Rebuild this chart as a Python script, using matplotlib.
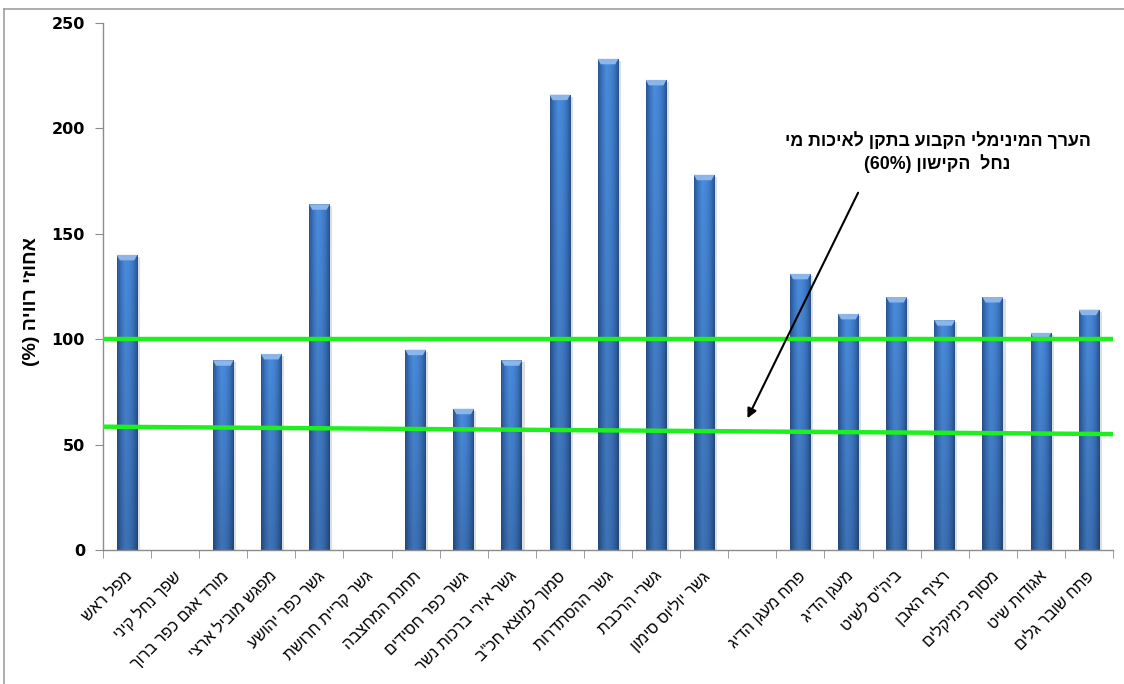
import re
import numpy as np
import matplotlib as mpl
mpl.use('Agg')
import matplotlib.pyplot as plt
from matplotlib.lines import Line2D
from matplotlib.patches import Polygon, Rectangle
from matplotlib.colors import LinearSegmentedColormap
import matplotlib.transforms as mtransforms

# saturation per station (%), nan = no sample
stations = ['מפל ראש', 'שפך נחל קיני', 'מורד אגם כפר ברוך', 'מפגש מוביל ארצי',
            'גשר כפר יהושע', 'גשר קריית חרושת', 'תחנת המחצבה', 'גשר כפר חסידים',
            'גשר אירי ברכות נשר', 'סמוך למוצא חכ"ב', 'גשר ההסתדרות', 'גשרי הרכבת',
            'גשר יוליוס סימון', '', 'פתח מעגן הדיג', 'מעגן הדיג', 'ביה"ס לשיט',
            'רציף האבן', 'מסוף כימיקלים', 'אגודות שיט', 'פתח שובר גלים']
saturation = [140, np.nan, 90, 93, 164, np.nan, 95, 67, 90, 216, 233, 223,
              178, np.nan, 131, 112, 120, 109, 120, 103, 114]

upper_ref = [100, 100]
lower_ref = [58.5, 55.0]

note_text = 'הערך המינימלי הקבוע בתקן לאיכות מי\nנחל  הקישון (60%)'
note_xy = (16.85, 188.5)
arrow_tail = (15.2, 169.5)
arrow_head = (12.9, 62.5)
ylabel_text = 'אחוזי רוויה (%)'


def rtl(s):
    # matplotlib has no bidi support: reverse to visual order, mirror
    # brackets, and keep number runs left-to-right
    out = []
    for line in s.split('\n'):
        r = line[::-1].translate(str.maketrans('()', ')('))
        r = re.sub(r'[0-9A-Za-z%.]+', lambda m: m.group(0)[::-1], r)
        out.append(r)
    return '\n'.join(out)


plt.rcParams['font.family'] = ['Liberation Sans', 'DejaVu Sans']

W, H = 1124, 684
fig = plt.figure(figsize=(W / 100, H / 100), dpi=100)
ax = fig.add_axes([103 / W, 1 - 550 / H, (1113 - 103) / W, (550 - 23) / H])

n = len(stations)
x = np.arange(n)
bw = 0.43

# bar shading: dark edges, lighter left-of-centre, darker towards the base
cmap = LinearSegmentedColormap.from_list(
    'bar', ['#2a5592', '#3a76c4', '#4b8cdb', '#4686d6', '#3b74c0', '#28528e'])
gx = np.linspace(0, 1, 64)
gy = np.linspace(0.82, 1.0, 64)[:, None]
base = cmap(gx)[None, :, :3]
shade = np.clip(base * gy[:, :, None], 0, 1)

for xi, v in zip(x, saturation):
    if np.isnan(v):
        continue
    x0, x1 = xi - bw / 2, xi + bw / 2
    # soft shadow on the right
    ax.add_patch(Rectangle((x1, 0), 0.05, v - 1, color='#c8c8c8',
                           alpha=0.6, lw=0, zorder=1))
    im = ax.imshow(shade, extent=[x0, x1, 0, v], origin='lower',
                   aspect='auto', zorder=2, interpolation='bilinear')
    rect = Rectangle((x0, 0), bw, v, transform=ax.transData)
    im.set_clip_path(rect)
    dx, dy = 0.065, 2.6
    ax.add_patch(Polygon([(x0, v), (x1, v), (x1 - dx, v - dy), (x0 + dx, v - dy)],
                         closed=True, color='#8ab6ea', lw=0, zorder=3))

# reference lines
ax.plot([-0.5, n - 0.5], upper_ref, color='#1ef01e', lw=3.2, zorder=4,
        solid_capstyle='butt')
ax.plot([-0.5, n - 0.5], lower_ref, color='#1ef01e', lw=3.2, zorder=4,
        solid_capstyle='butt')

ax.annotate('', xy=arrow_head, xytext=arrow_tail,
            arrowprops=dict(arrowstyle='-|>', color='black', lw=1.5,
                            mutation_scale=14, shrinkA=0, shrinkB=0),
            zorder=5)
ax.text(note_xy[0], note_xy[1], rtl(note_text), ha='center', va='center',
        fontsize=12.8, fontweight='bold', linespacing=1.3, zorder=5)

ax.set_xlim(-0.5, n - 0.5)
ax.set_ylim(0, 250)

for s in ['top', 'right']:
    ax.spines[s].set_visible(False)
for s in ['left', 'bottom']:
    ax.spines[s].set_color('#8c8c8c')
    ax.spines[s].set_linewidth(1.0)

ax.set_yticks(np.arange(0, 251, 50))
ax.tick_params(axis='y', direction='out', length=6, color='#8c8c8c',
               pad=7, labelsize=11.5)
for lab in ax.get_yticklabels():
    lab.set_fontweight('bold')
    lab.set_family('DejaVu Sans')

ax.set_xticks(np.arange(-0.5, n, 1.0), minor=True)
ax.set_xticks(x)
ax.tick_params(axis='x', which='minor', direction='out', length=6,
               color='#8c8c8c')
ax.tick_params(axis='x', which='major', length=0, pad=17)
ax.set_xticklabels([rtl(s) for s in stations], rotation=45, ha='right',
                   va='center', rotation_mode='anchor', fontsize=11.5)
offset = mtransforms.ScaledTranslation(3 / 100, 0, fig.dpi_scale_trans)
for lab in ax.get_xticklabels():
    lab.set_transform(lab.get_transform() + offset)

fig.text(31 / W, 1 - 302 / H, rtl(ylabel_text), rotation=90, ha='center',
         va='center', fontsize=14, fontweight='bold')

# outer chart frame
fig.add_artist(Line2D([4 / W, 4 / W], [0, 1 - 9 / H], color='#a0a0a0', lw=1.2,
                      transform=fig.transFigure))
fig.add_artist(Line2D([4 / W, 1], [1 - 9 / H, 1 - 9 / H], color='#a0a0a0',
                      lw=1.2, transform=fig.transFigure))

fig.savefig('out.png', dpi=100)
